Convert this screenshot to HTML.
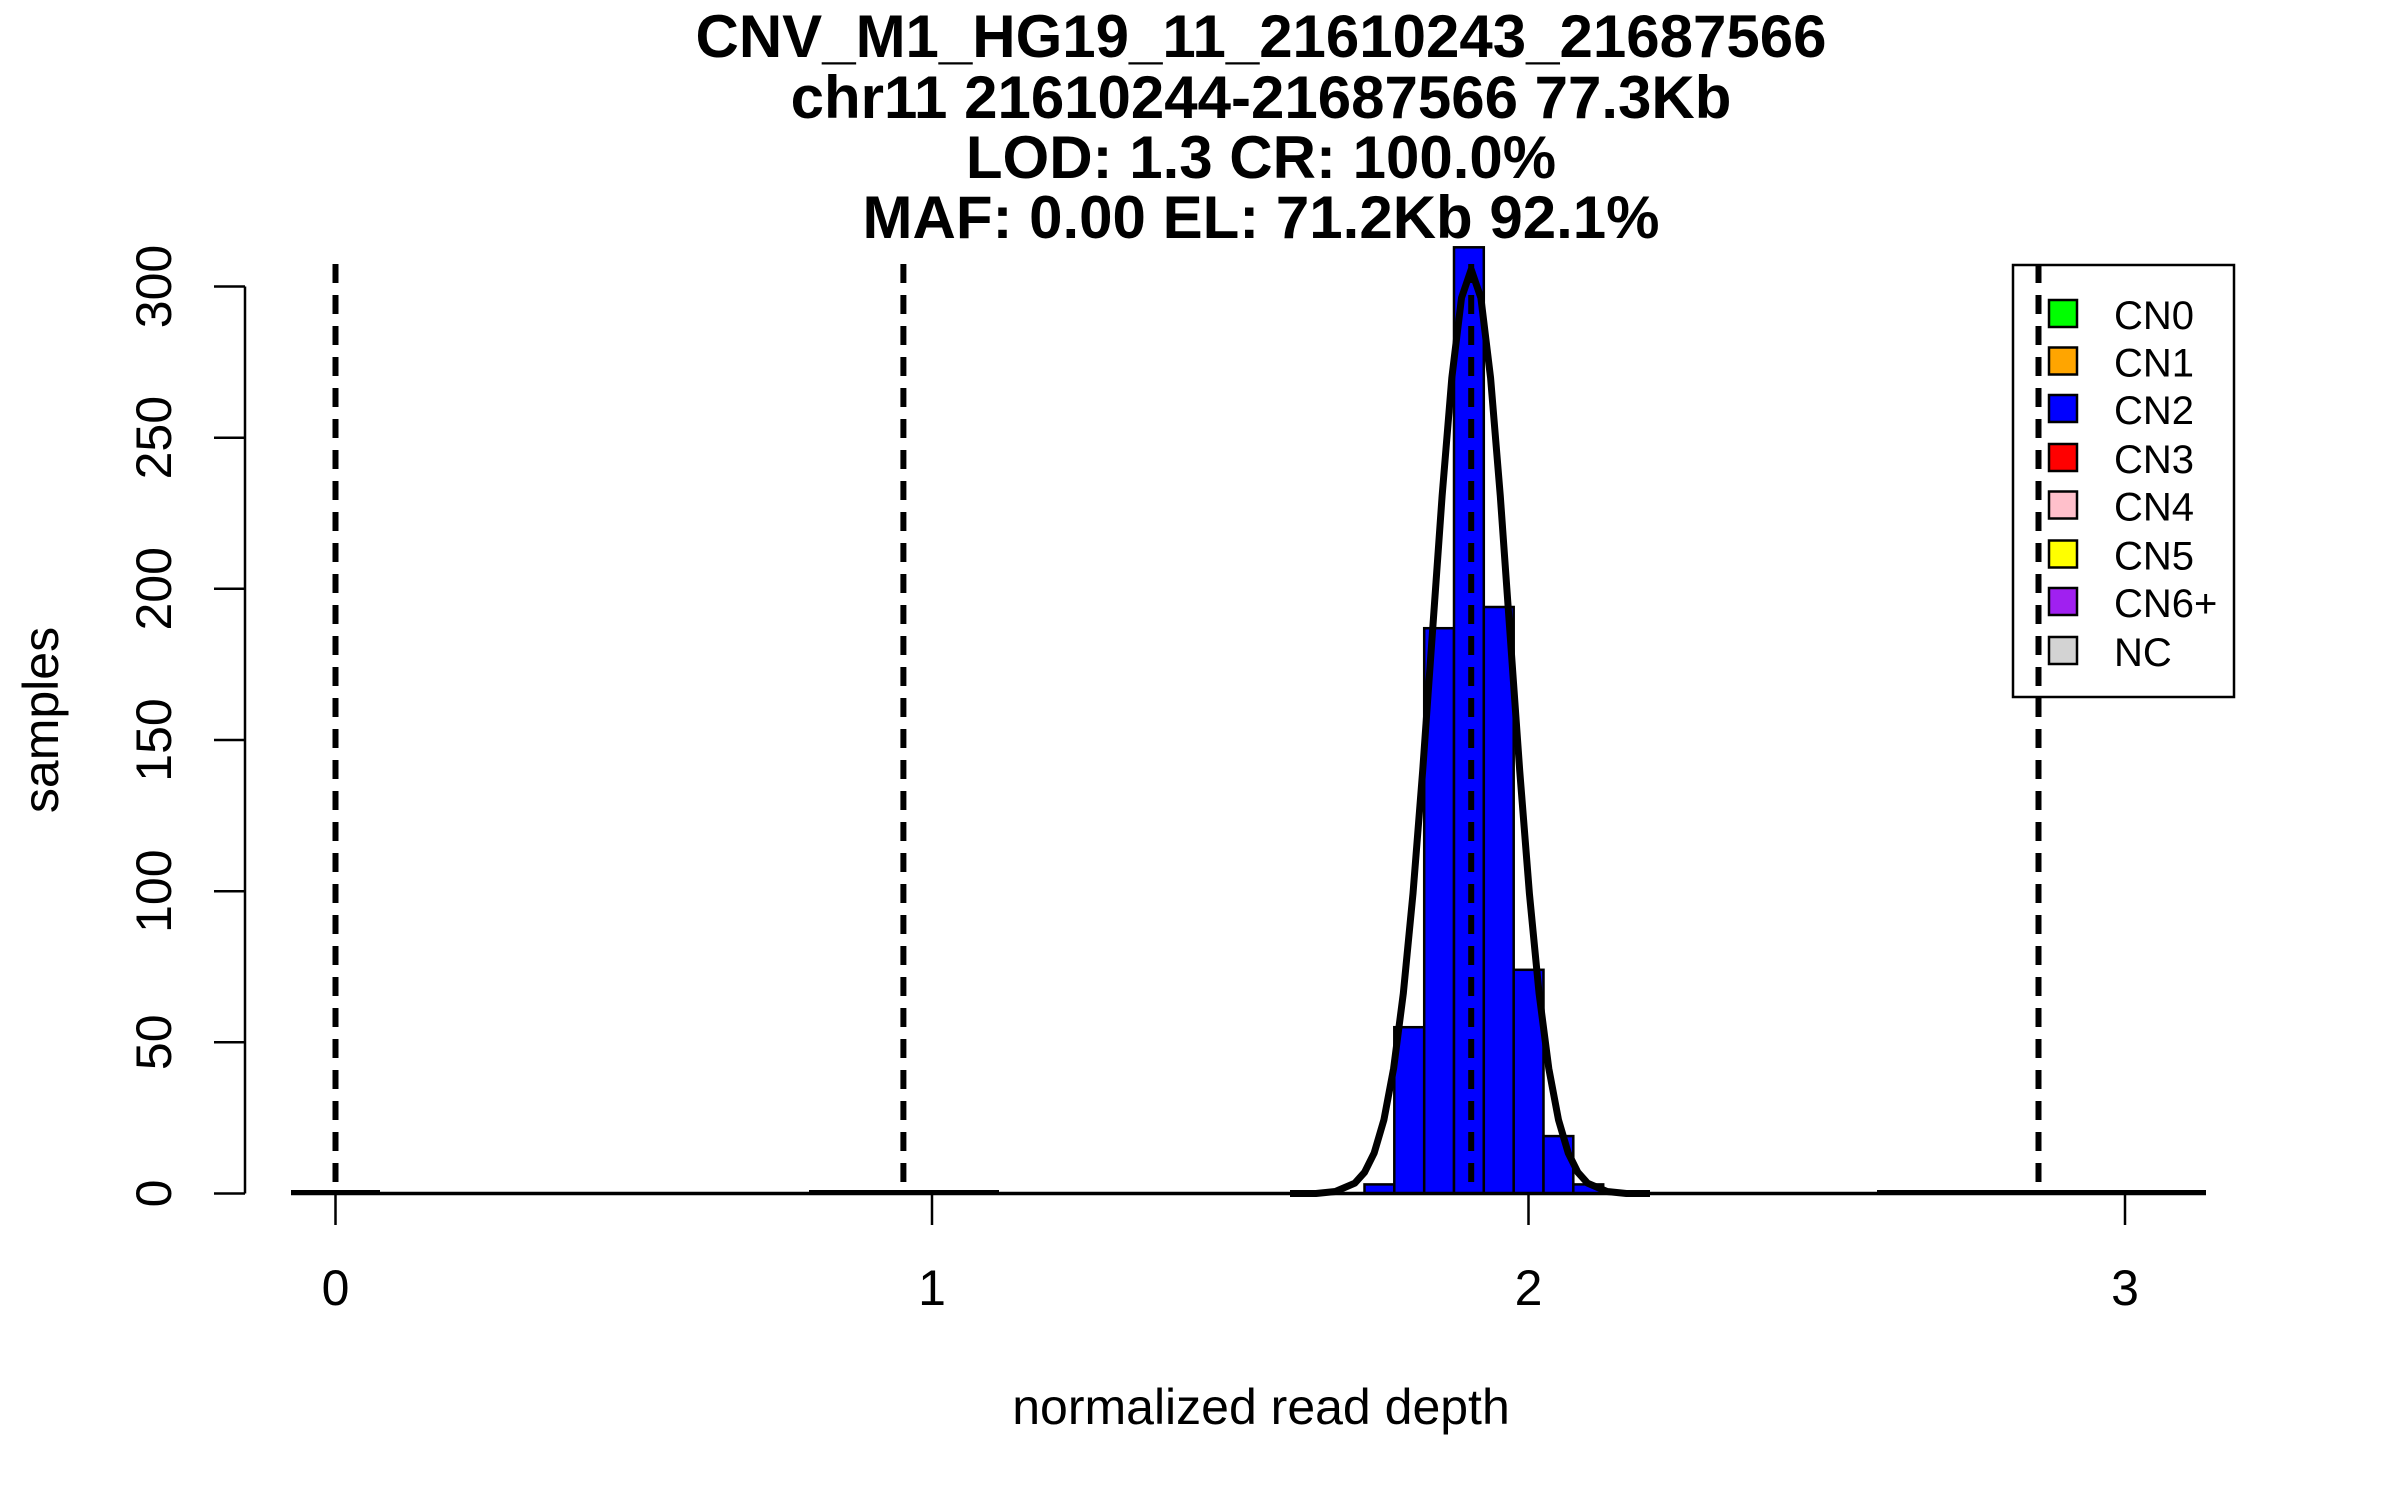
<!DOCTYPE html>
<html><head><meta charset="utf-8"><style>html,body{margin:0;padding:0;background:#fff}svg{display:block}</style></head>
<body>
<svg width="2400" height="1500" viewBox="0 0 2400 1500" xmlns="http://www.w3.org/2000/svg" font-family="Liberation Sans, sans-serif">
<rect width="2400" height="1500" fill="#fff"/>
<g font-weight="bold" font-size="60" text-anchor="middle" fill="#000">
<text x="1261" y="57">CNV_M1_HG19_11_21610243_21687566</text>
<text x="1261" y="118">chr11 21610244-21687566 77.3Kb</text>
<text x="1261" y="178">LOD: 1.3 CR: 100.0%</text>
<text x="1261" y="238">MAF: 0.00 EL: 71.2Kb 92.1%</text>
</g>
<g fill="#0000ff" stroke="#000" stroke-width="2.5">
<rect x="1364.5" y="1184.4" width="29.8" height="9.1"/>
<rect x="1394.3" y="1027.2" width="29.9" height="166.3"/>
<rect x="1424.2" y="628.2" width="29.8" height="565.3"/>
<rect x="1454.0" y="247.3" width="29.8" height="946.2"/>
<rect x="1483.8" y="607.0" width="29.9" height="586.5"/>
<rect x="1513.7" y="969.8" width="29.8" height="223.7"/>
<rect x="1543.5" y="1136.1" width="29.8" height="57.4"/>
<rect x="1573.3" y="1184.4" width="29.9" height="9.1"/>
</g>
<line x1="291" y1="1193.5" x2="2206" y2="1193.5" stroke="#000" stroke-width="3.5"/>
<g stroke="#000" stroke-width="5">
<line x1="291" y1="1192.5" x2="380" y2="1192.5"/>
<line x1="809" y1="1192.5" x2="999" y2="1192.5"/>
<line x1="1877" y1="1192.5" x2="2206" y2="1192.5"/>
</g>
<polyline fill="none" stroke="#000" stroke-width="7" stroke-linejoin="round" points="1290,1193.5 1316,1193.5 1335.4,1191.5 1354.8,1183.2 1364.5,1172.4 1374.2,1152.9 1383.9,1119.9 1393.6,1068.5 1403.3,993.6 1413.0,893.5 1422.7,770.5 1432.4,633.1 1442.1,496.1 1451.8,378.1 1461.5,297.9 1471.2,269.5 1480.9,297.9 1490.6,378.1 1500.3,496.1 1510.0,633.1 1519.7,770.5 1529.4,893.5 1539.1,993.6 1548.8,1068.5 1558.5,1119.9 1568.2,1152.9 1577.9,1172.4 1587.6,1183.2 1607.0,1191.5 1626.4,1193.5 1650,1193.5"/>
<g stroke="#000" stroke-width="6" stroke-dasharray="19,12">
<line x1="335.5" y1="264" x2="335.5" y2="1193.5"/>
<line x1="903.4" y1="264" x2="903.4" y2="1193.5"/>
<line x1="1471.2" y1="264" x2="1471.2" y2="1193.5"/>
<line x1="2038.5" y1="264" x2="2038.5" y2="1193.5"/>
</g>
<g stroke="#000" stroke-width="2.5" fill="none">
<line x1="245" y1="286.5" x2="245" y2="1193.5"/>
<line x1="214" y1="286.5" x2="245" y2="286.5"/>
<line x1="214" y1="437.7" x2="245" y2="437.7"/>
<line x1="214" y1="588.8" x2="245" y2="588.8"/>
<line x1="214" y1="740" x2="245" y2="740"/>
<line x1="214" y1="891.2" x2="245" y2="891.2"/>
<line x1="214" y1="1042.3" x2="245" y2="1042.3"/>
<line x1="214" y1="1193.5" x2="245" y2="1193.5"/>
<line x1="335.5" y1="1193.5" x2="335.5" y2="1225"/>
<line x1="932" y1="1193.5" x2="932" y2="1225"/>
<line x1="1528.5" y1="1193.5" x2="1528.5" y2="1225"/>
<line x1="2125" y1="1193.5" x2="2125" y2="1225"/>
</g>
<g font-size="50" fill="#000" text-anchor="middle">
<text transform="translate(171,286.5) rotate(-90)">300</text>
<text transform="translate(171,437.7) rotate(-90)">250</text>
<text transform="translate(171,588.8) rotate(-90)">200</text>
<text transform="translate(171,740) rotate(-90)">150</text>
<text transform="translate(171,891.2) rotate(-90)">100</text>
<text transform="translate(171,1042.3) rotate(-90)">50</text>
<text transform="translate(171,1193.5) rotate(-90)">0</text>
<text x="335.5" y="1305">0</text>
<text x="932" y="1305">1</text>
<text x="1528.5" y="1305">2</text>
<text x="2125" y="1305">3</text>
<text x="1261" y="1424">normalized read depth</text>
<text transform="translate(58,720) rotate(-90)">samples</text>
</g>
<rect x="2013" y="265" width="221" height="432" fill="none" stroke="#000" stroke-width="2.5"/>
<g stroke="#000" stroke-width="2.5">
<rect x="2049" y="300" width="28" height="27" fill="#00ff00"/>
<rect x="2049" y="347.5" width="28" height="27" fill="#ffa500"/>
<rect x="2049" y="395" width="28" height="27" fill="#0000ff"/>
<rect x="2049" y="444" width="28" height="27" fill="#ff0000"/>
<rect x="2049" y="491.5" width="28" height="27" fill="#ffc0cb"/>
<rect x="2049" y="540.5" width="28" height="27" fill="#ffff00"/>
<rect x="2049" y="588" width="28" height="27" fill="#a020f0"/>
<rect x="2049" y="637" width="28" height="27" fill="#d3d3d3"/>
</g>
<g font-size="40" fill="#000">
<text x="2114" y="329">CN0</text>
<text x="2114" y="376.5">CN1</text>
<text x="2114" y="424">CN2</text>
<text x="2114" y="473">CN3</text>
<text x="2114" y="520.5">CN4</text>
<text x="2114" y="569.5">CN5</text>
<text x="2114" y="617">CN6+</text>
<text x="2114" y="666">NC</text>
</g>
</svg>
</body></html>
